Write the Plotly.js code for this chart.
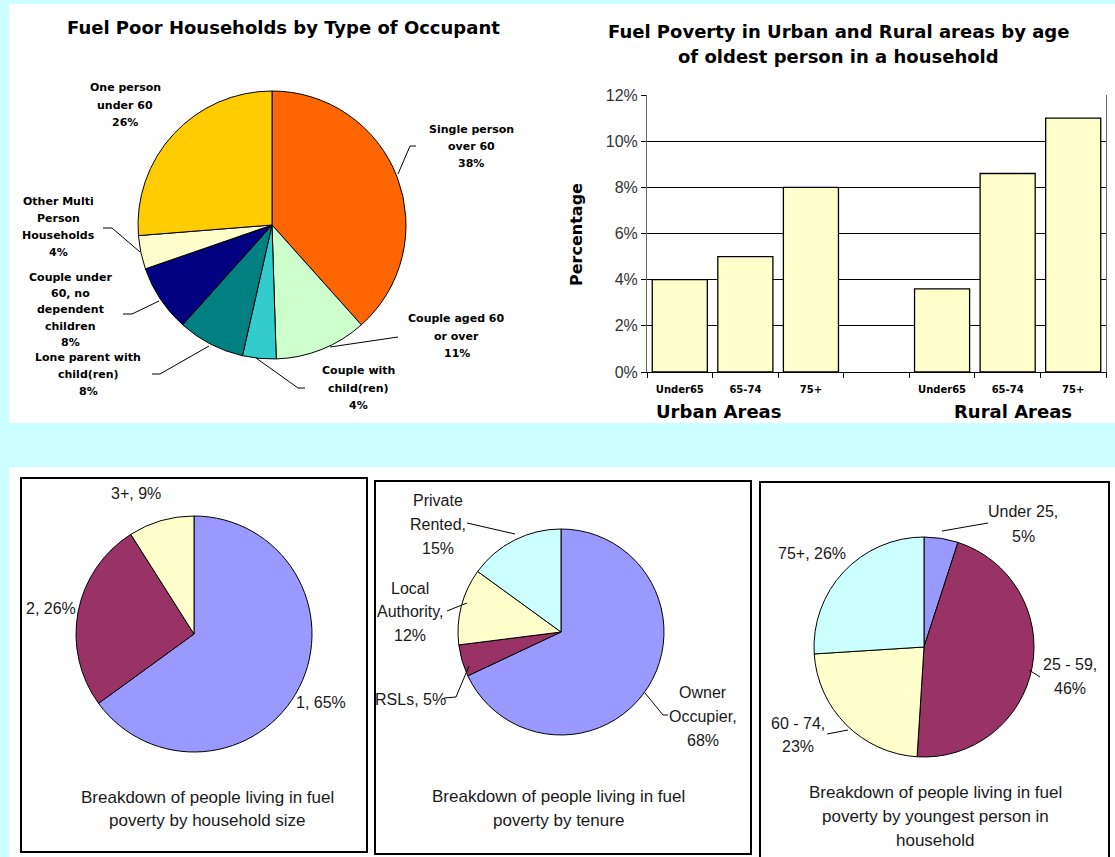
<!DOCTYPE html>
<html>
<head>
<meta charset="utf-8">
<script src="https://cdn.plot.ly/plotly-3.0.1.min.js"></script>
<style>
html,body{margin:0;padding:0;background:#ccffff;}
#chart{width:1115px;height:857px;}
</style>
</head>
<body>
<div id="chart"></div>
<script>
// ---------------- DATA ----------------
// Chart 1: Fuel poor households by type of occupant
const occupantTypes = [
  ['Single person', 'over 60'],
  ['Couple aged 60', 'or over'],
  ['Couple with', 'child(ren)'],
  ['Lone parent with', 'child(ren)'],
  ['Couple under', '60, no', 'dependent', 'children'],
  ['Other Multi', 'Person', 'Households'],
  ['One person', 'under 60']
];
const occupantShares = [38, 11, 4, 8, 8, 4, 26];

// Chart 2: Fuel poverty in urban / rural areas by age of oldest person
const ageBands = ['Under65', '65-74', '75+'];
const urbanRates = [4, 5, 8];
const ruralRates = [3.6, 8.6, 11];
const areaNames = ['Urban Areas', 'Rural Areas'];
const yTickValues = [0, 2, 4, 6, 8, 10, 12];

// Chart 3: by household size
const householdSizes = ['1', '2', '3+'];
const householdShares = [65, 26, 9];

// Chart 4: by tenure
const tenures = [['Owner', 'Occupier'], ['RSLs'], ['Local', 'Authority'], ['Private', 'Rented']];
const tenureShares = [68, 5, 12, 15];

// Chart 5: by youngest person in household
const youngestAges = ['Under 25', '25 - 59', '60 - 74', '75+'];
const youngestShares = [5, 46, 23, 26];

const titles = {
  occupant: 'Fuel Poor Households by Type of Occupant',
  area: ['Fuel Poverty in Urban and Rural areas by age', 'of oldest person in a household'],
  areaY: 'Percentage',
  size: ['Breakdown of people living in fuel', 'poverty by household size'],
  tenure: ['Breakdown of people living in fuel', 'poverty by tenure'],
  youngest: ['Breakdown of people living in fuel', 'poverty by youngest person in', 'household']
};

// ---------------- HELPERS ----------------
const W = 1115, H = 857;
const fx = p => p / W;
const fy = p => 1 - p / H;
const dom = (cx, cy, r) => ({x: [fx(cx - r), fx(cx + r)], y: [fy(cy + r), fy(cy - r)]});

const boldFont = (s) => ({family: 'DejaVu Sans', size: s, color: '#000', weight: 'bold'});
const armFont = (s, c) => ({family: 'Liberation Sans', size: s, color: c || '#1a1a1a'});

const annotations = [];
const shapes = [];

function textLines(lines, cx, y0, dy, font) {
  lines.forEach((t, i) => {
    annotations.push({text: t, x: fx(cx), y: fy(y0 + i * dy), xref: 'paper', yref: 'paper',
      showarrow: false, font: font, xanchor: 'center', yanchor: 'middle'});
  });
}
function leader(points) {
  shapes.push({type: 'path', xref: 'paper', yref: 'paper', layer: 'above',
    path: points.map((p, i) => (i ? 'L' : 'M') + fx(p[0]) + ',' + fy(p[1])).join(' '),
    line: {color: '#000', width: 1}});
}
function rect(x0, y0, x1, y1, fill, line) {
  shapes.push({type: 'rect', xref: 'paper', yref: 'paper', layer: 'below',
    x0: fx(x0), x1: fx(x1), y0: fy(y1), y1: fy(y0),
    fillcolor: fill, line: line || {width: 0}});
}

// backgrounds / panels
rect(9, 4, 1115, 423, '#ffffff');
rect(9, 467, 1115, 857, '#ffffff');
rect(21, 478, 367, 852, 'rgba(0,0,0,0)', {color: '#000', width: 2});
rect(375, 481, 751, 854, 'rgba(0,0,0,0)', {color: '#000', width: 2});
rect(760, 482, 1109, 862, 'rgba(0,0,0,0)', {color: '#000', width: 2});

// ---------------- TRACES ----------------
const pieCommon = {type: 'pie', sort: false, direction: 'clockwise', rotation: 0,
  textinfo: 'none', hoverinfo: 'label+percent', showlegend: false};

const traces = [];

traces.push(Object.assign({}, pieCommon, {
  labels: occupantTypes.map(l => l.join(' ')),
  values: occupantShares,
  domain: dom(272, 225, 134),
  marker: {colors: ['#ff6600', '#ccffcc', '#33cccc', '#008080', '#000080', '#ffffcc', '#ffcc00'],
           line: {color: '#000', width: 1}}
}));

const barX = ageBands.map((_, i) => i).concat(ageBands.map((_, i) => i + ageBands.length + 1));
traces.push({
  type: 'bar', x: barX, y: urbanRates.concat(ruralRates),
  xaxis: 'x', yaxis: 'y', showlegend: false,
  marker: {color: '#ffffcc', line: {color: '#000', width: 1.3}},
  hovertemplate: '%{y}%<extra></extra>'
});

traces.push(Object.assign({}, pieCommon, {
  labels: householdSizes, values: householdShares,
  domain: dom(194, 634, 118),
  marker: {colors: ['#9999ff', '#993366', '#ffffcc'], line: {color: '#000', width: 1}}
}));
traces.push(Object.assign({}, pieCommon, {
  labels: tenures.map(t => t.join(' ')), values: tenureShares,
  domain: dom(561, 632, 103),
  marker: {colors: ['#9999ff', '#993366', '#ffffcc', '#ccffff'], line: {color: '#000', width: 1}}
}));
traces.push(Object.assign({}, pieCommon, {
  labels: youngestAges, values: youngestShares,
  domain: dom(924, 647, 110),
  marker: {colors: ['#9999ff', '#993366', '#ffffcc', '#ccffff'], line: {color: '#000', width: 1}}
}));

// ---------------- LABELS ----------------
// Chart 1 title + labels
textLines([titles.occupant], 283, 27, 0, boldFont(18));
const pct = v => v + '%';
const occLabelPos = [ // [cx, firstLineY, lineSpacing]
  [471, 129, 17.3], [457, 319, 17.3], [358, 371, 17.3], [88, 357, 17.3], [70, 277, 16.4], [58, 201, 17.3], [125, 88, 17.3]
];
const occLabelFont = boldFont(11);
occupantTypes.forEach((lines, i) => {
  textLines(lines.concat([pct(occupantShares[i])]), occLabelPos[i][0], occLabelPos[i][1], occLabelPos[i][2], occLabelFont);
});
leader([[416, 146], [410, 146], [398, 174]]);
leader([[398, 337], [330, 347]]);
leader([[305, 388], [298, 388], [256, 358]]);
leader([[152, 374], [160, 374], [209, 346]]);
leader([[123, 314], [132, 314], [159, 301]]);
leader([[103, 228], [112, 228], [140, 252]]);

// Chart 2 titles and labels
textLines(titles.area, 838, 32, 25, boldFont(18));
annotations.push({text: titles.areaY, x: fx(576), y: fy(235), xref: 'paper', yref: 'paper',
  showarrow: false, textangle: -90, font: boldFont(16), xanchor: 'center', yanchor: 'middle'});
textLines([areaNames[0]], 718, 411, 0, boldFont(18));
textLines([areaNames[1]], 1013, 411, 0, boldFont(18));

// Chart 3
textLines(titles.size, 207, 797, 23, armFont(17));
textLines([householdSizes[2] + ', ' + pct(householdShares[2])], 136, 493, 0, armFont(16));
textLines([householdSizes[1] + ', ' + pct(householdShares[1])], 51, 608, 0, armFont(16));
textLines([householdSizes[0] + ', ' + pct(householdShares[0])], 321, 702, 0, armFont(16));

// Chart 4
textLines(titles.tenure, 558, 796, 24, armFont(17));
textLines([tenures[3][0], tenures[3][1] + ',', pct(tenureShares[3])], 438, 500, 24, armFont(16));
textLines([tenures[2][0], tenures[2][1] + ',', pct(tenureShares[2])], 410, 588, 23.5, armFont(16));
textLines([tenures[1][0] + ', ' + pct(tenureShares[1])], 410, 699, 0, armFont(16));
textLines([tenures[0][0], tenures[0][1] + ',', pct(tenureShares[0])], 703, 692, 24, armFont(16));
leader([[467, 523], [515, 534]]);
leader([[447, 611], [467, 603]]);
leader([[444, 698], [456, 697], [469, 666]]);
leader([[668, 715], [663, 715], [645, 693]]);

// Chart 5
textLines(titles.youngest, 935, 792, 24, armFont(17));
textLines([youngestAges[0] + ',', pct(youngestShares[0])], 1023, 512, 24, armFont(16));
textLines([youngestAges[1] + ',', pct(youngestShares[1])], 1070, 664, 24, armFont(16));
textLines([youngestAges[2] + ',', pct(youngestShares[2])], 798, 723, 23, armFont(16));
textLines([youngestAges[3] + ', ' + pct(youngestShares[3])], 812, 553, 0, armFont(16));
leader([[988, 523], [942, 531]]);
leader([[1040, 677], [1029, 670]]);
leader([[827, 734], [848, 730]]);

// ---------------- LAYOUT ----------------
const layout = {
  width: W, height: H,
  margin: {l: 0, r: 0, t: 0, b: 0},
  paper_bgcolor: '#ccffff',
  plot_bgcolor: '#ffffff',
  bargap: 0.16,
  xaxis: {
    domain: [fx(647), fx(1106)], range: [-0.5, 6.5], fixedrange: true,
    tickvals: barX, ticktext: ageBands.concat(ageBands),
    ticks: '', ticklabelstandoff: 8,
    tickfont: boldFont(10),
    showgrid: false, zeroline: false,
    showline: true, linecolor: '#000', linewidth: 1,
    minor: {tick0: 0.5, dtick: 1, ticks: 'outside', ticklen: 5, tickcolor: '#000', showgrid: false}
  },
  yaxis: {
    domain: [fy(372), fy(95)], range: [0, 12], fixedrange: true,
    tickvals: yTickValues, ticktext: yTickValues.map(v => v + '%'),
    ticks: 'outside', ticklen: 5, tickcolor: '#000',
    tickfont: armFont(16, '#333'),
    showgrid: true, gridcolor: '#000', gridwidth: 1,
    zeroline: false, showline: true, linecolor: '#666', mirror: true
  },
  annotations: annotations,
  shapes: shapes
};

Plotly.newPlot('chart', traces, layout, {displayModeBar: false, staticPlot: true});
</script>
</body>
</html>
